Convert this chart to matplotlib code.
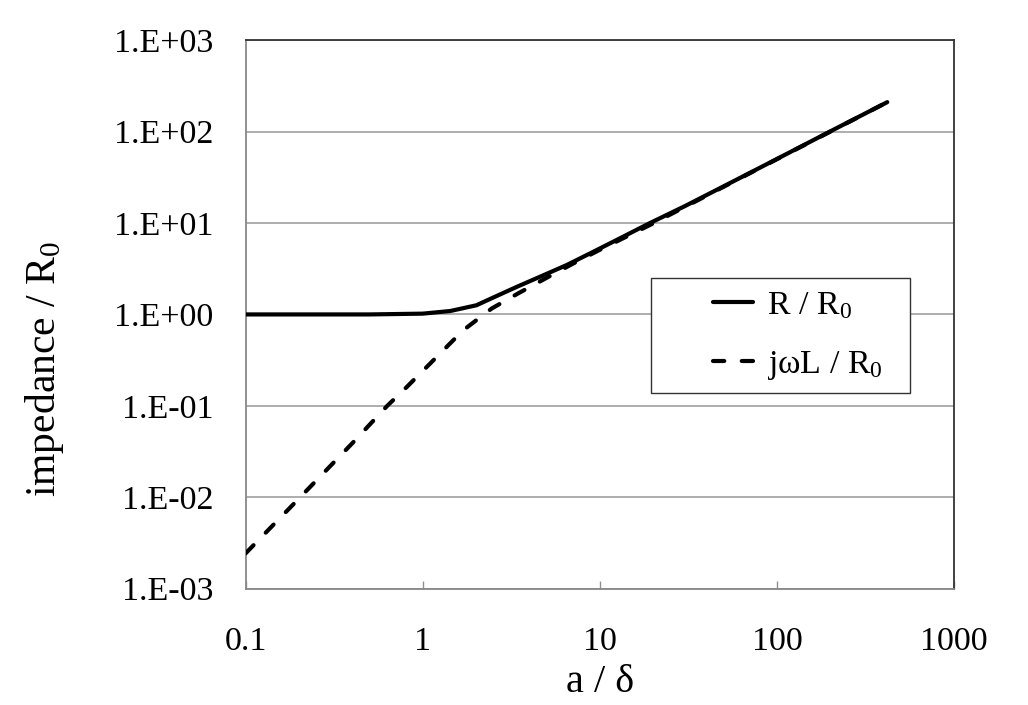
import matplotlib
matplotlib.use("Agg")
import matplotlib.pyplot as plt
from matplotlib.patches import Rectangle
from matplotlib.ticker import FixedLocator, FixedFormatter, NullLocator

plt.rcParams['font.family'] = ['Liberation Serif', 'DejaVu Serif']
plt.rcParams['mathtext.fontset'] = 'custom'
plt.rcParams['mathtext.rm'] = 'Liberation Serif'
plt.rcParams['mathtext.it'] = 'Liberation Serif:italic'
plt.rcParams['mathtext.default'] = 'regular'

# ---- data ----
r_x = [0.1, 0.2, 0.5, 1.0, 1.43, 2.01, 2.5, 3.39, 4.5, 6.5, 9.0, 12.4, 19.2, 30, 50, 100, 199, 420]
r_y = [1.0, 1.0, 1.0, 1.02, 1.09, 1.26, 1.53, 2.0, 2.54, 3.47, 4.75, 6.5, 10.0, 15.2, 25.2, 50.2, 100, 210]

l_x = [0.1, 0.2, 0.4, 0.63, 0.81, 1.1, 1.69, 2.45, 3.46, 4.94, 7.08, 9.93, 20, 50, 100, 200, 420]
l_y = [0.00244, 0.0097, 0.039, 0.1, 0.16, 0.29, 0.67, 1.16, 1.70, 2.48, 3.61, 5.06, 9.9, 24.9, 49.9, 99.8, 210]

x_ticks = [0.1, 1, 10, 100, 1000]
x_labels = ["0.1", "1", "10", "100", "1000"]
y_ticks = [1e-3, 1e-2, 1e-1, 1e0, 1e1, 1e2, 1e3]
y_labels = ["1.E-03", "1.E-02", "1.E-01", "1.E+00", "1.E+01", "1.E+02", "1.E+03"]

series_labels = ["R / R$_0$", "j\u03c9L / R$_0$"]

fig = plt.figure(figsize=(10.28, 7.05), dpi=100)
ax = fig.add_axes([0.239, 0.165, 0.689, 0.778])

ax.set_xscale('log')
ax.set_yscale('log')
ax.set_xlim(0.1, 1000)
ax.set_ylim(1e-3, 1e3)

ax.plot(r_x, r_y, color='black', lw=3.0, solid_capstyle='round', label=series_labels[0], zorder=3)
ax.plot(l_x, l_y, color='black', lw=3.0, ls=(0, (2.7, 4.2)), dash_capstyle='round',
        label=series_labels[1], zorder=3)

ax.xaxis.set_major_locator(FixedLocator(x_ticks))
ax.xaxis.set_major_formatter(FixedFormatter(x_labels))
ax.xaxis.set_minor_locator(NullLocator())
ax.yaxis.set_major_locator(FixedLocator(y_ticks))
ax.yaxis.set_major_formatter(FixedFormatter(y_labels))
ax.yaxis.set_minor_locator(NullLocator())

ax.tick_params(axis='x', which='major', direction='in', length=6, width=1, color='#909090',
               labelsize=24.5, pad=27)
ax.tick_params(axis='y', which='major', length=0, labelsize=24.5, pad=23)

ax.grid(True, axis='y', color='#a0a0a0', lw=1.2)
ax.set_axisbelow(True)

for s in ['left', 'bottom']:
    ax.spines[s].set_color('#888888')
    ax.spines[s].set_linewidth(1.3)
for s in ['top', 'right']:
    ax.spines[s].set_color('#333333')
    ax.spines[s].set_linewidth(1.3)

ax.set_xlabel("a / \u03b4", fontsize=29)
ax.set_ylabel("impedance / R$_0$", fontsize=30)
ax.xaxis.set_label_coords(0.5, -0.137)
ax.yaxis.set_label_coords(-0.254, 0.40)

# legend box (frame drawn separately, as in the reference)
box = Rectangle((0.572, 0.356), 0.366, 0.210, transform=ax.transAxes,
                facecolor='white', edgecolor='#333333', lw=1.0, zorder=4)
ax.add_patch(box)

leg = ax.legend(loc='center left', bbox_to_anchor=(0.66, 0.461), fontsize=24.5,
                frameon=False, handlelength=1.18, handletextpad=0.4, labelspacing=0.82,
                borderpad=0.0, borderaxespad=0)
leg.set_zorder(5)

fig.savefig("out.png", dpi=100, facecolor='white')
